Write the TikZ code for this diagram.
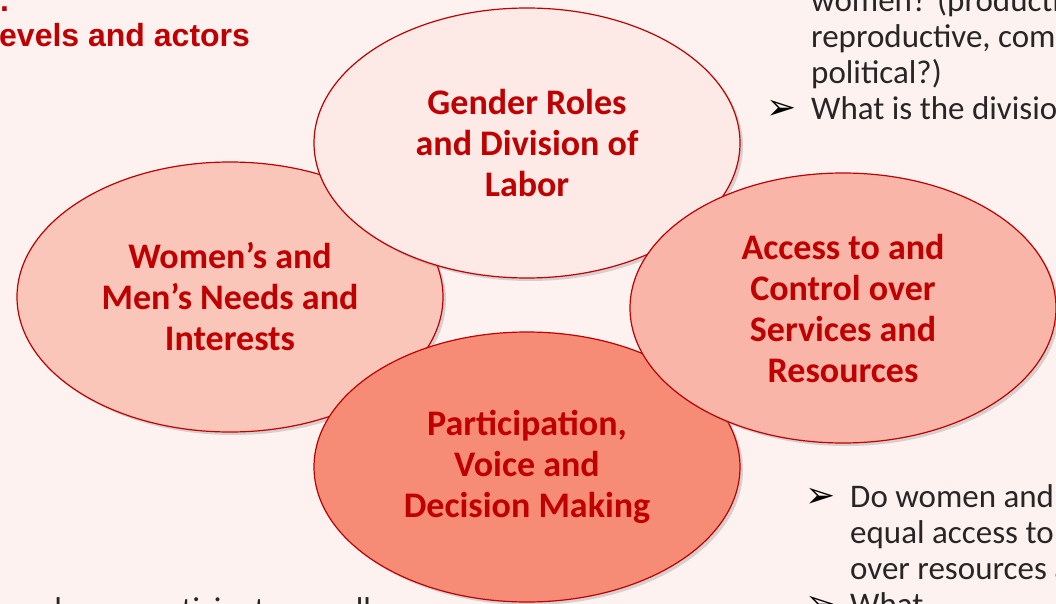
\documentclass[tikz,border=0pt]{standalone}
\usepackage{fontspec}
\setmainfont{Carlito}
\newfontfamily\arialfont{Liberation Sans}
\newfontfamily\symbfont{DejaVu Sans}
\usepackage{tikz}
\usetikzlibrary{shapes,shadows}
\definecolor{bg}{HTML}{FEF2F0}
\definecolor{darkred}{HTML}{C00000}
\definecolor{roles}{HTML}{FDE9E6}
\definecolor{needs}{HTML}{FBC6BA}
\definecolor{access}{HTML}{F9B5A7}
\definecolor{partic}{HTML}{F68C76}
\definecolor{ink}{HTML}{262626}
\tikzstyle{bubble} = [draw=darkred, line width=1.2pt, ellipse, minimum width=426pt, minimum height=270pt, inner sep=0pt, align=center, text=darkred, font=\fontsize{36}{41}\selectfont\bfseries, drop shadow={shadow xshift=3pt, shadow yshift=-3pt, opacity=0.3}]
\tikzstyle{note} = [anchor=base west, inner sep=0pt, align=left, text=ink, font=\fontsize{33}{36}\selectfont]
\tikzstyle{tick} = [anchor=base west, inner sep=0pt, text=black, font=\symbfont\fontsize{36}{36}\selectfont]
\tikzstyle{heading} = [anchor=base west, inner sep=0pt, text=darkred, font=\arialfont\bfseries\fontsize{32}{36}\selectfont]

\begin{document}
\begin{tikzpicture}[x=1pt,y=-1pt]

    \clip (0,0) rectangle (1056,604);
    \fill[bg] (0,0) rectangle (1056,604);

    % --- heading
    \node[heading] (dot) at (0,12) {.};
    \node[heading] (levels) at (-1,47) {evels and actors};

    % --- the four bubbles
    \node[bubble, fill=needs] (needs) at (230,297) {Women’s and\\Men’s Needs and\\Interests};
    \node[bubble, fill=roles] (roles) at (527,143) {Gender Roles\\and Division of\\Labor};
    \node[bubble, fill=partic] (partic) at (527,467) {Participation,\\Voice and\\Decision Making};
    \node[bubble, fill=access] (access) at (843,308) {Access to and\\Control over\\Services and\\Resources};

    % --- questions on the right (base = last line)
    \node[note] (roleq) at (811,84) {women? (productive,\\reproductive, community,\\political?)};
    \node[tick] (tick1) at (766,120) {➢};
    \node[note] (divq) at (811,120) {What is the division of labor};
    \node[tick] (tick2) at (805,507) {➢};
    \node[note] (accessq) at (850,579) {Do women and men have\\equal access to and control\\over resources and};
    \node[tick] (tick3) at (805,615) {➢};
    \node[note] (whatq) at (850,615) {What};

    % --- line at the bottom left
    \node[note] (equalq) at (-97,620) {women and men participate equally};

\end{tikzpicture}
\end{document}
